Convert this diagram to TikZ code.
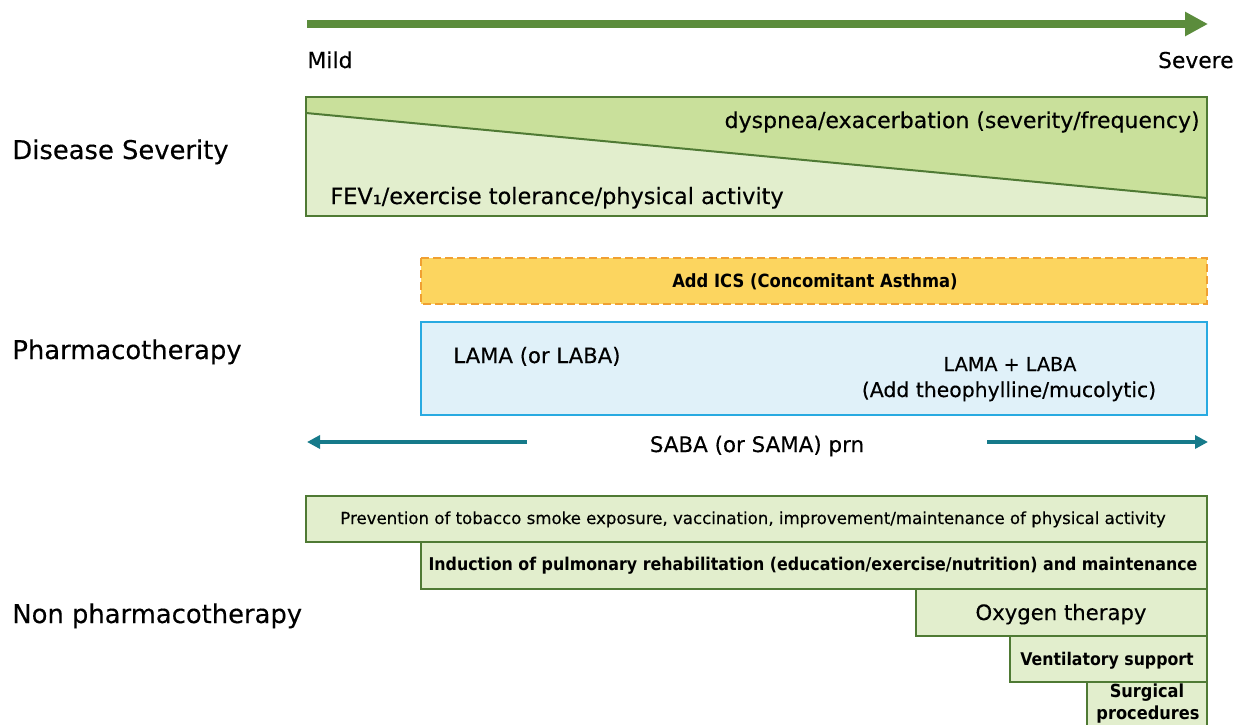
\documentclass[tikz,border=0pt]{standalone}
\usepackage{fontspec}
\setmainfont{DejaVu Sans}[UprightFeatures={FakeBold=0.3},BoldFeatures={FakeStretch=0.9}]
\usetikzlibrary{arrows.meta}
\definecolor{arrowgreen}{RGB}{91,140,60}
\definecolor{boxgreen}{RGB}{79,122,52}
\definecolor{darkfill}{RGB}{201,224,155}
\definecolor{lightfill}{RGB}{226,238,205}
\definecolor{icsborder}{RGB}{240,160,50}
\definecolor{icsfill}{RGB}{252,213,95}
\definecolor{bluefill}{RGB}{224,241,249}
\definecolor{blueborder}{RGB}{40,170,225}
\definecolor{tealc}{RGB}{22,122,138}
\tikzset{
  fs/.style={font=\fontsize{#1}{#1}\selectfont},
  fsb/.style={font=\fontsize{#1}{#1}\selectfont\bfseries},
  rowlabel/.style={fs=12.9pt, anchor=base west, inner sep=0pt},
  txt/.style={inner sep=0pt, anchor=base},
  bigarrow/.style={draw=arrowgreen, line width=3.7pt, -{Triangle[length=11.5pt,width=11.5pt]}},
  tealarrow/.style={draw=tealc, line width=2.3pt, -{Triangle[length=6.5pt,width=6.5pt]}},
  npbox/.style={draw=boxgreen, fill=lightfill, line width=1pt},
  sevline/.style={draw=boxgreen, line width=1pt},
}
\begin{document}
\begin{tikzpicture}[x=0.5pt, y=-0.5pt]
\clip (0,0) rectangle (1244,724);
% severity arrow
\coordinate (mildend) at (307,24);
\coordinate (sevend) at (1208,24);
\draw[bigarrow] (mildend) -- (sevend);
\node[fs=11pt, anchor=base west, inner sep=0pt] (mild) at (307,68) {Mild};
\node[fs=10.9pt, anchor=base east, inner sep=0pt] (severe) at (1234,68) {Severe};

% row labels
\node[rowlabel] (lds) at (12,159) {Disease Severity};
\node[rowlabel] (lph) at (12,359) {Pharmacotherapy};
\node[rowlabel] (lnp) at (12,623) {Non pharmacotherapy};

% disease severity box
\coordinate (dsnw) at (306,97);
\coordinate (dsne) at (1207,97);
\coordinate (dsse) at (1207,216);
\coordinate (dssw) at (306,216);
\coordinate (diagL) at (306,113);
\coordinate (diagR) at (1207,198);
\fill[lightfill] (dsnw) rectangle (dsse);
\fill[darkfill] (dsnw) -- (dsne) -- (diagR) -- (diagL) -- cycle;
\draw[sevline] (diagL) -- (diagR);
\draw[sevline] (dsnw) rectangle (dsse);
\node[fs=11pt, anchor=base east, inner sep=0pt] (dysp) at (1200,128) {dyspnea/exacerbation (severity/frequency)};
\node[fs=11.2pt, anchor=base west, inner sep=0pt] (fev) at (330,204) {FEV₁/exercise tolerance/physical activity};

% pharmacotherapy
\draw[draw=icsborder, fill=icsfill, line width=1pt, dash pattern=on 4pt off 2pt] (421,258) rectangle (1207,304);
\node[fsb=9.1pt, txt] (ics) at (815,287) {Add ICS (Concomitant Asthma)};
\draw[draw=blueborder, fill=bluefill, line width=1pt] (421,322) rectangle (1207,415);
\node[fs=10.6pt, anchor=base west, inner sep=0pt] (lama) at (453,363) {LAMA (or LABA)};
\node[fs=9.6pt, txt] (lamalaba) at (1010,371) {LAMA + LABA};
\node[fs=10.2pt, txt] (theo) at (1009,397) {(Add theophylline/mucolytic)};
\node[fs=10.7pt, txt] (saba) at (757,452) {SABA (or SAMA) prn};
\coordinate (sabaLs) at (527,442);
\coordinate (sabaLe) at (307,442);
\coordinate (sabaRs) at (987,442);
\coordinate (sabaRe) at (1208,442);
\draw[tealarrow] (sabaLs) -- (sabaLe);
\draw[tealarrow] (sabaRs) -- (sabaRe);

% non pharmacotherapy
\draw[npbox] (306,496) rectangle (1207,542);
\node[fs=8.3pt, txt] (prev) at (753,524) {Prevention of tobacco smoke exposure, vaccination, improvement/maintenance of physical activity};
\draw[npbox] (421,542) rectangle (1207,589);
\node[fsb=8.8pt, txt] (induct) at (813,570) {Induction of pulmonary rehabilitation (education/exercise/nutrition) and maintenance};
\draw[npbox] (916,589) rectangle (1207,636);
\node[fs=10.6pt, txt] (oxy) at (1061,620) {Oxygen therapy};
\draw[npbox] (1010,636) rectangle (1207,682);
\node[fsb=8.75pt, txt] (vent) at (1107,665) {Ventilatory support};
\draw[npbox] (1087,682) rectangle (1207,740);
\node[fsb=9pt, txt] (surg1) at (1147,697) {Surgical};
\node[fsb=9pt, txt] (surg2) at (1148,719) {procedures};
\end{tikzpicture}
\end{document}
